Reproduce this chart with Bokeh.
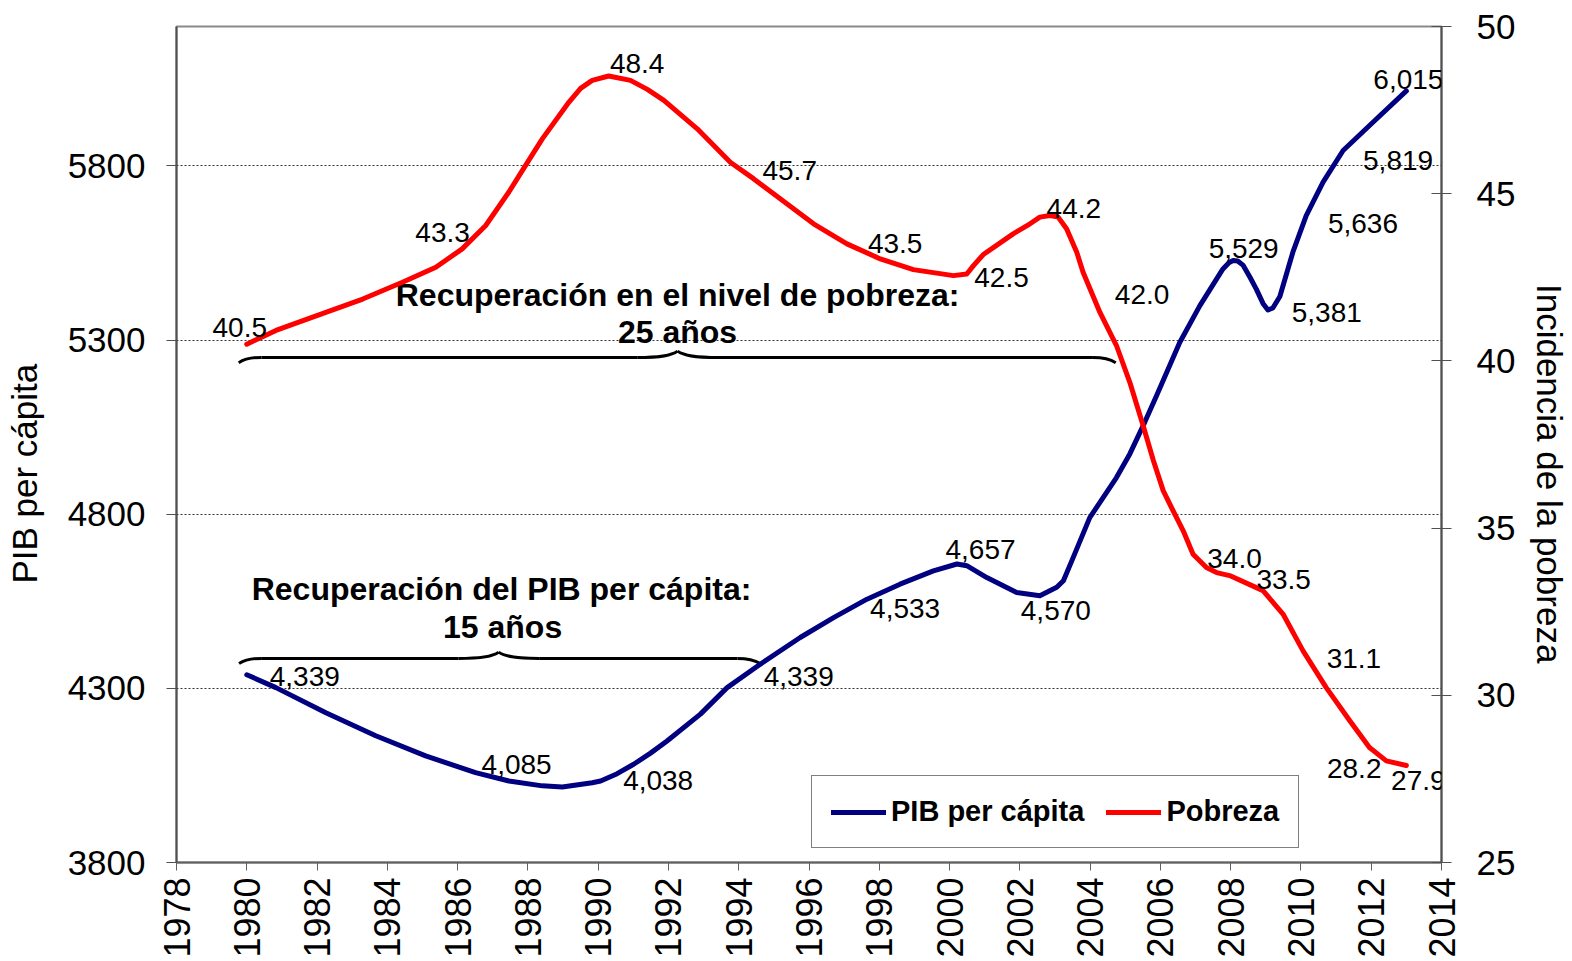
import math
from bokeh.plotting import figure
from bokeh.models import Range1d, LinearAxis, FixedTicker, ColumnDataSource, LabelSet
from bokeh.core.properties import value
from bokeh.embed import file_html
from bokeh.resources import INLINE

FONT = "Liberation Sans"

# ---------------- data ----------------
years_pib = [1980.0, 1980.83, 1982.25, 1983.67, 1985.09, 1986.51, 1987.46, 1988.41, 1988.98,
             1989.83, 1990.07, 1990.54, 1991.01, 1991.49, 1991.96, 1992.91, 1993.67, 1994.61,
             1995.75, 1996.7, 1997.65, 1998.59, 1999.54, 2000.21, 2000.49, 2001.06, 2001.91,
             2002.57, 2003.05, 2003.24, 2003.52, 2003.99, 2004.75, 2005.13, 2005.56, 2005.89,
             2006.55, 2007.12, 2007.78, 2007.95, 2008.07, 2008.2, 2008.35, 2008.55, 2008.73,
             2008.92, 2009.06, 2009.2, 2009.4, 2009.77,
             2010.15, 2010.63, 2011.2, 2012.05, 2013.0]
pib = [4339, 4302, 4230, 4164, 4106, 4058, 4034, 4020, 4017,
       4029, 4034, 4055, 4082, 4114, 4149, 4226, 4302, 4369,
       4446, 4503, 4556, 4599, 4637, 4657, 4652, 4618, 4575,
       4566, 4590, 4609, 4676, 4790, 4905, 4973, 5065, 5140,
       5293, 5398, 5504, 5522, 5528, 5527, 5515, 5480, 5446,
       5405, 5386, 5392, 5425, 5552,
       5657, 5753, 5844, 5925, 6015]

years_pob = [1980.0, 1980.83, 1982.25, 1983.3, 1984.43, 1985.38, 1986.13, 1986.8, 1987.46,
             1987.93, 1988.41, 1989.17, 1989.5, 1989.83, 1990.3, 1990.92, 1991.4, 1991.87,
             1992.82, 1993.76,
             1994.42, 1995.18, 1996.13, 1997.08, 1998.03, 1998.97, 2000.11, 2000.49, 2000.68,
             2000.96, 2001.81, 2002.29, 2002.57, 2002.86, 2003.09, 2003.33, 2003.62, 2003.8,
             2004.28, 2004.75, 2005.13, 2005.51, 2005.8, 2006.08, 2006.36, 2006.65, 2006.93,
             2007.31, 2007.6, 2007.97, 2008.92, 2009.49, 2010.06, 2010.72, 2011.39, 2011.95,
             2012.43, 2013.0]
pob = [40.5, 40.91, 41.45, 41.85, 42.35, 42.8, 43.35, 44.05, 45.05,
       45.84, 46.64, 47.74, 48.15, 48.39, 48.52, 48.39, 48.12, 47.79,
       46.94, 45.94,
       45.45, 44.85, 44.1, 43.5, 43.05, 42.73, 42.55, 42.6, 42.85,
       43.18, 43.8, 44.1, 44.3, 44.35, 44.3, 43.95, 43.25, 42.65,
       41.45, 40.46, 39.36, 38.06, 37.02, 36.12, 35.52, 34.92, 34.22,
       33.82, 33.67, 33.58, 33.13, 32.43, 31.33, 30.23, 29.24, 28.44,
       28.04, 27.9]

pib_label_years = [1980, 1986, 1990, 1994, 1997, 2000, 2002, 2008, 2009, 2010, 2011, 2013]
pib_label_values = [4339, 4085, 4038, 4339, 4533, 4657, 4570, 5529, 5381, 5636, 5819, 6015]
pob_label_years = [1980, 1986, 1990, 1994, 1997, 2000, 2002, 2004, 2007, 2008, 2010, 2012, 2013]
pob_label_values = [40.5, 43.3, 48.4, 45.7, 43.5, 42.5, 44.2, 42.0, 34.0, 33.5, 31.1, 28.2, 27.9]

x_ticks = list(range(1978, 2015, 2))
pib_ticks = [3800, 4300, 4800, 5300, 5800]
pob_ticks = [25, 30, 35, 40, 45, 50]

annot_text = ["Recuperación en el nivel de pobreza:", "25 años",
              "Recuperación del PIB per cápita:", "15 años"]

# ---------------- styles / positions ----------------
pib_label_dx = [58, 59, 60, 60, 61, 31, 36, 13, 61, 62, 62, 2]
pib_label_dy = [-2, -1, -1, -2, -1, 14, -16, 12, -1, -1, -1, 11]
pob_label_dx = [-7, -15, 39, 51, 51, 52, 54, 52, 39, 53, 53, -17, 12]
pob_label_dy = [17, 18, 17, 0, 0, 0, 12, 0, 3, -1, 0, -13, -15]

annot_x = [1992.26, 1992.26, 1987.25, 1987.28]
annot_y = [5428, 5324, 4586, 4477]

brace_left = [1979.77, 1979.78]
brace_right = [2004.73, 1994.61]
brace_mid = [1992.26, 1987.17]
brace_level = [5250, 4386]

BLUE = "#000080"
RED = "#FF0000"
NB = "\u00a0"

p = figure(width=1572, height=960,
           x_range=Range1d(1978, 2014), y_range=Range1d(3800, 6200),
           output_backend="svg", toolbar_location=None,
           min_border_left=176, min_border_right=130,
           min_border_top=26, min_border_bottom=98)
p.extra_y_ranges = {"pob": Range1d(25, 50)}
p.background_fill_color = "white"
p.border_fill_color = "white"
p.outline_line_color = "#8a8a8a"
p.outline_line_width = 2

# grid
p.xgrid.visible = False
p.ygrid.ticker = FixedTicker(ticks=[4300, 4800, 5300, 5800])
p.ygrid.grid_line_color = "#333333"
p.ygrid.grid_line_dash = "2 2"
p.ygrid.grid_line_width = 1

# x axis
xa = p.xaxis[0]
xa.ticker = FixedTicker(ticks=x_ticks)
xa.major_label_orientation = math.pi / 2
xa.major_label_text_font = FONT
xa.major_label_text_font_size = "36px"
xa.major_label_text_color = "black"
xa.major_tick_out = 8
xa.major_tick_in = 0
xa.minor_tick_out = 0
xa.minor_tick_in = 0
xa.major_label_standoff = 7
xa.axis_line_color = "#606060"
xa.axis_line_width = 2
xa.major_tick_line_color = "#606060"

# left axis
ya = p.yaxis[0]
ya.ticker = FixedTicker(ticks=pib_ticks)
ya.axis_label = "PIB per cápita" + NB * 6
ya.axis_label_text_font = FONT
ya.axis_label_text_font_size = "35px"
ya.axis_label_text_font_style = "normal"
ya.axis_label_text_color = "black"
ya.axis_label_standoff = 21
ya.major_label_text_font = FONT
ya.major_label_text_font_size = "35px"
ya.major_label_text_color = "black"
ya.major_label_standoff = 21
ya.major_tick_out = 10
ya.major_tick_in = 0
ya.minor_tick_out = 0
ya.minor_tick_in = 0
ya.axis_line_color = "#505050"
ya.axis_line_width = 2
ya.major_tick_line_color = "#505050"

# right axis
ra = LinearAxis(y_range_name="pob", ticker=FixedTicker(ticks=pob_ticks),
                axis_label=NB * 6 + "Incidencia de la pobreza")
ra.axis_label_text_font = FONT
ra.axis_label_text_font_size = "35px"
ra.axis_label_text_font_style = "normal"
ra.axis_label_text_color = "black"
ra.axis_label_standoff = 12
ra.major_label_text_font = FONT
ra.major_label_text_font_size = "35px"
ra.major_label_text_color = "black"
ra.major_label_standoff = 25
ra.major_tick_out = 10
ra.major_tick_in = 10
ra.minor_tick_out = 0
ra.minor_tick_in = 0
ra.axis_line_color = "#505050"
ra.axis_line_width = 2
ra.major_tick_line_color = "#505050"
p.add_layout(ra, "right")

# braces
seg = dict(x0=[], y0=[], x1=[], y1=[], cx0=[], cy0=[], cx1=[], cy1=[])


def add_seg(x0, y0, cx0, cy0, cx1, cy1, x1, y1):
    seg["x0"].append(x0); seg["y0"].append(y0)
    seg["cx0"].append(cx0); seg["cy0"].append(cy0)
    seg["cx1"].append(cx1); seg["cy1"].append(cy1)
    seg["x1"].append(x1); seg["y1"].append(y1)


hook_w, hook_drop, tip_w, tip_h = 0.65, 15.0, 1.15, 18.0
for L, R, M, lev in zip(brace_left, brace_right, brace_mid, brace_level):
    add_seg(L, lev - hook_drop, L + hook_w * 0.3, lev - hook_drop * 0.15,
            L + hook_w * 0.6, lev, L + hook_w, lev)
    add_seg(L + hook_w, lev, L + hook_w, lev, M - tip_w, lev, M - tip_w, lev)
    add_seg(M - tip_w, lev, M - tip_w * 0.4, lev, M - tip_w * 0.15, lev + tip_h * 0.3, M, lev + tip_h)
    add_seg(M, lev + tip_h, M + tip_w * 0.15, lev + tip_h * 0.3, M + tip_w * 0.4, lev, M + tip_w, lev)
    add_seg(M + tip_w, lev, M + tip_w, lev, R - hook_w, lev, R - hook_w, lev)
    add_seg(R - hook_w, lev, R - hook_w * 0.6, lev, R - hook_w * 0.3, lev - hook_drop * 0.15,
            R, lev - hook_drop)
p.bezier(source=ColumnDataSource(seg), x0="x0", y0="y0", x1="x1", y1="y1",
         cx0="cx0", cy0="cy0", cx1="cx1", cy1="cy1", line_color="black", line_width=3)

# annotation texts
p.text(x=annot_x, y=annot_y, text=annot_text, text_font=value(FONT),
       text_font_style="bold", text_font_size="32px", text_color="black",
       text_align="center", text_baseline="middle")

# series
p.line(years_pib, pib, line_color=BLUE, line_width=5, line_join="round", line_cap="round",
       legend_label="PIB per cápita")
p.line(years_pob, pob, line_color=RED, line_width=5, line_join="round", line_cap="round",
       y_range_name="pob", legend_label="Pobreza")

# data labels
src_pib = ColumnDataSource(dict(x=pib_label_years, y=pib_label_values,
                                t=[f"{v:,}" for v in pib_label_values],
                                dx=pib_label_dx, dy=pib_label_dy))
src_pob = ColumnDataSource(dict(x=pob_label_years, y=pob_label_values,
                                t=[f"{v:.1f}" for v in pob_label_values],
                                dx=pob_label_dx, dy=pob_label_dy))
for src, rng in ((src_pib, "default"), (src_pob, "pob")):
    ls = LabelSet(x="x", y="y", text="t", source=src, x_offset="dx", y_offset="dy",
                  y_range_name=rng, text_font=value(FONT), text_font_size="28px",
                  text_color="black", text_align="center", text_baseline="middle")
    p.add_layout(ls)

# legend
lg = p.legend[0]
lg.orientation = "horizontal"
lg.location = (635, 14)
lg.label_text_font = FONT
lg.label_text_font_size = "29px"
lg.label_text_font_style = "bold"
lg.label_text_color = "black"
lg.glyph_width = 55
lg.glyph_height = 30
lg.label_height = 30
lg.label_standoff = 5
lg.spacing = 22
lg.padding = 19
lg.margin = 0
lg.border_line_color = "black"
lg.border_line_width = 1
lg.background_fill_color = "white"
lg.background_fill_alpha = 1.0

open("out.html", "w").write(file_html(p, INLINE))
